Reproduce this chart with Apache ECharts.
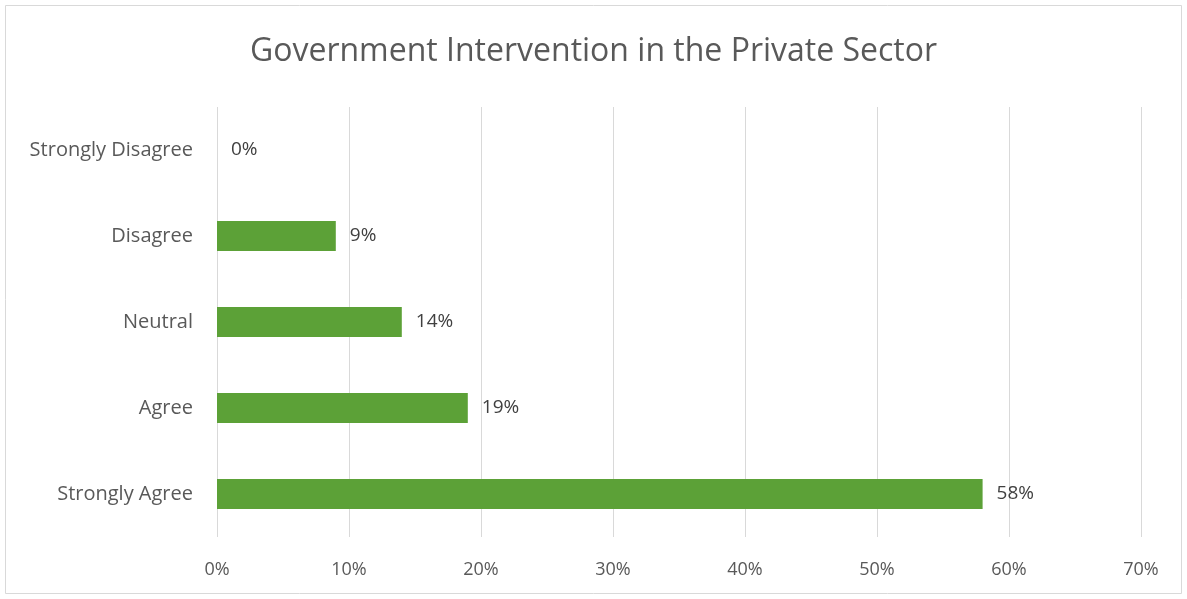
<!DOCTYPE html>
<html><head><meta charset="utf-8">
<script src="https://cdn.jsdelivr.net/npm/echarts@6/dist/echarts.min.js"></script>
<style>html,body{margin:0;padding:0;background:#fff}#c{width:1187px;height:599px}</style>
</head><body><div id="c"></div>
<script>
const categories = ["Strongly Disagree", "Disagree", "Neutral", "Agree", "Strongly Agree"];
const values = [0, 9, 14, 19, 58];
const titleText = "Government Intervention in the Private Sector";
const font = "'Open Sans', sans-serif";
const chart = echarts.init(document.getElementById('c'));
chart.setOption({
  animation: false,
  backgroundColor: '#fff',
  title: { text: titleText, left: 'center', top: 31,
    textStyle: { fontFamily: font, fontSize: 32, fontWeight: 'normal', color: '#595959' } },
  graphic: [{ type: 'rect', shape: { x: 5.5, y: 5.5, width: 1176, height: 588 },
    style: { fill: 'none', stroke: '#d9d9d9', lineWidth: 1 }, silent: true }],
  grid: { left: 217, right: 46, top: 107, bottom: 62, containLabel: false },
  xAxis: { type: 'value', min: 0, max: 70, interval: 10,
    axisLine: { show: false }, axisTick: { show: false },
    axisLabel: { formatter: '{value}%', fontFamily: font, fontSize: 18, color: '#595959', margin: 24 },
    splitLine: { lineStyle: { color: '#d9d9d9', width: 1 } } },
  yAxis: { type: 'category', data: categories, inverse: true,
    axisLine: { show: false }, axisTick: { show: false },
    axisLabel: { fontFamily: font, fontSize: 20, color: '#595959', margin: 24 } },
  series: [{ type: 'bar', data: values, barWidth: 30,
    itemStyle: { color: '#5ca137' },
    label: { show: true, position: 'right', distance: 14, formatter: '{c}%',
      fontFamily: font, fontSize: 19, color: '#404040' } }]
});
</script></body></html>
